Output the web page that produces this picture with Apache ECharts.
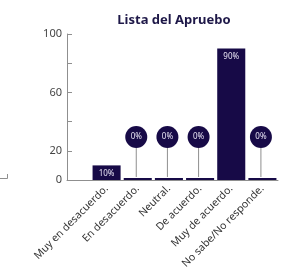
<!DOCTYPE html>
<html>
<head>
<meta charset="utf-8">
<script src="https://cdn.jsdelivr.net/npm/echarts@6/dist/echarts.min.js"></script>
<style>
  html, body { margin: 0; padding: 0; background: #fff; }
  #chart { width: 282px; height: 273px; }
</style>
</head>
<body>
<div id="chart"></div>
<script>
// datos
var categorias = ['Muy en desacuerdo.', 'En desacuerdo.', 'Neutral.', 'De acuerdo.', 'Muy de acuerdo.', 'No sabe/No responde.'];
var valores = [10, 0, 0, 0, 90, 0];
var yTicks = [0, 20, 60, 100]; // etiquetas visibles del eje y

var azul = '#170a47';
var gris = '#8f8f8f';
var fuente = 'Noto Sans';

var myChart = echarts.init(document.getElementById('chart'));

var option = {
  animation: false,
  textStyle: { fontFamily: fuente },
  title: {
    text: 'Lista del Apruebo',
    left: 169,
    top: 9,
    textAlign: 'center',
    textStyle: { fontSize: 13, fontWeight: 'bold', color: '#1e1848', fontFamily: fuente }
  },
  grid: [
    { left: 91, right: 4, top: 34, bottom: 93 },  // barras
    { left: 67, right: 4, top: 34, bottom: 93 }   // ejes
  ],
  xAxis: [
    {
      type: 'category', gridIndex: 0, data: categorias,
      axisLine: { show: false },
      axisTick: { show: false },
      axisLabel: { rotate: 45, fontSize: 10.5, color: '#333', margin: 7, interval: 0 }
    },
    {
      type: 'category', gridIndex: 1, data: [''],
      axisLine: { lineStyle: { color: gris } },
      axisTick: { show: false },
      axisLabel: { show: false }
    }
  ],
  yAxis: [
    { type: 'value', gridIndex: 0, min: 0, max: 100, show: false },
    {
      type: 'value', gridIndex: 1, min: 0, max: 100, interval: 20,
      axisLine: { show: true, lineStyle: { color: gris } },
      axisTick: { show: true, inside: true, length: 5, lineStyle: { color: gris } },
      splitLine: { show: false },
      axisLabel: {
        fontSize: 11, color: '#444', margin: 5,
        formatter: function (v) { return yTicks.indexOf(v) >= 0 ? v : ''; }
      }
    }
  ],
  graphic: [
    { type: 'polyline', shape: { points: [[0, 178.5], [7.5, 178.5], [7.5, 174]] }, style: { stroke: gris, fill: null, lineWidth: 1 } }
  ],
  series: [
    {
      type: 'bar',
      xAxisIndex: 0, yAxisIndex: 0,
      data: valores,
      barWidth: '90%',
      barMinHeight: 2,
      itemStyle: { color: azul },
      label: {
        show: true,
        position: 'insideTop',
        distance: 4,
        color: '#e8e4f4',
        fontSize: 8,
        formatter: function (p) { return p.value > 0 ? p.value + '%' : ''; }
      }
    },
    {
      // burbujas para los 0%
      type: 'custom',
      xAxisIndex: 0, yAxisIndex: 0,
      data: valores.map(function (v, i) { return [i, v]; }),
      renderItem: function (params, api) {
        var v = api.value(1);
        if (v !== 0) return;
        var base = api.coord([api.value(0), 0]);
        var cx = base[0] - 1.5;
        var cy = base[1] - 43;
        var r = 11;
        return {
          type: 'group',
          children: [
            { type: 'line', shape: { x1: cx, y1: cy + r, x2: cx, y2: base[1] - 3 }, style: { stroke: gris, lineWidth: 1 } },
            { type: 'circle', shape: { cx: cx, cy: cy, r: r }, style: { fill: azul } },
            { type: 'text', x: cx, y: cy, style: { text: v + '%', fill: '#e8e4f4', fontSize: 8, fontFamily: fuente, align: 'center', verticalAlign: 'middle' } }
          ]
        };
      }
    }
  ]
};

myChart.setOption(option);
</script>
</body>
</html>
